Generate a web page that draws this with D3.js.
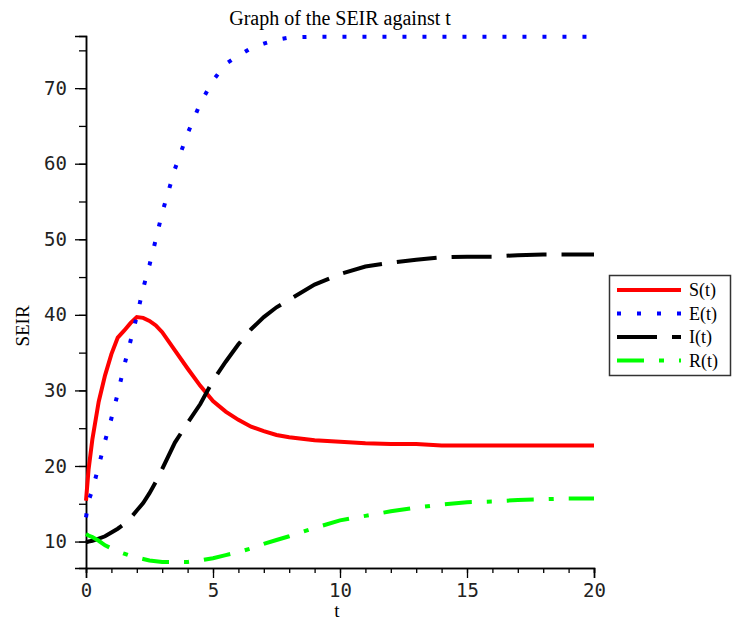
<!DOCTYPE html>
<html lang="en">
	<head>
		<meta charset="utf-8">
		<title>Graph of the SEIR against t</title>
		<script type="text/javascript" src="https://d3js.org/d3.v7.min.js"></script>
		<style type="text/css">
			body { margin: 0; background: #fff; }
			text { font-family: "Liberation Serif", "Times New Roman", serif; fill: #000; }
			.tick text { font-family: "DejaVu Sans Mono", monospace; fill: #222; }
		</style>
	</head>
	<body>
		<script type="text/javascript">

			//Width and height
			var w = 732;
			var h = 626;

			// data
			var tValues = [0, 0.1, 0.25, 0.5, 0.75, 1, 1.25, 1.5, 1.75, 2, 2.25, 2.5, 2.75, 3, 3.5, 4, 4.5, 5, 5.5, 6, 6.5, 7, 7.5, 8, 9, 10, 11, 12, 13, 14, 15, 16, 17, 18, 19, 20];
			var sValues = [15.4, 19.5, 23.5, 28.5, 32.0, 34.8, 37.0, 37.9, 38.9, 39.7, 39.6, 39.2, 38.6, 37.7, 35.3, 32.9, 30.6, 28.6, 27.2, 26.1, 25.2, 24.6, 24.1, 23.8, 23.4, 23.2, 23.0, 22.9, 22.9, 22.7, 22.7, 22.7, 22.7, 22.7, 22.7, 22.7];
			var eValues = [13.2, 15.4, 16.8, 20.0, 23.3, 26.3, 29.6, 33.2, 36.5, 39.8, 43.5, 46.6, 50.0, 53.5, 59.3, 64.0, 68.0, 71.0, 73.2, 74.3, 75.3, 75.9, 76.4, 76.7, 76.8, 76.8, 76.8, 76.8, 76.8, 76.8, 76.8, 76.8, 76.8, 76.8, 76.8, 76.8];
			var iValues = [9.9, 10.0, 10.1, 10.4, 10.7, 11.2, 11.7, 12.3, 13.1, 14.1, 15.1, 16.4, 17.9, 19.6, 23.1, 25.7, 28.2, 31.3, 33.8, 36.1, 38.1, 39.7, 41.0, 42.0, 44.0, 45.4, 46.4, 46.9, 47.3, 47.6, 47.7, 47.7, 47.9, 48.0, 48.0, 48.0];
			var rValues = [11.0, 10.8, 10.6, 10.1, 9.5, 9.1, 8.7, 8.4, 8.1, 7.9, 7.7, 7.5, 7.4, 7.3, 7.3, 7.3, 7.5, 7.8, 8.2, 8.6, 9.1, 9.7, 10.2, 10.7, 11.8, 12.8, 13.4, 14.0, 14.5, 14.9, 15.2, 15.3, 15.5, 15.6, 15.7, 15.7];

			var seriesNames = ["S(t)", "E(t)", "I(t)", "R(t)"];
			var seriesColors = ["#ff0000", "#0000ff", "#000000", "#00ff00"];
			var seriesDashes = [null, "4,16", "40,15", "27,15,5,15"];

			var xTicks = [0, 5, 10, 15, 20];
			var yTicks = [10, 20, 30, 40, 50, 60, 70];

			var series = [sValues, eValues, iValues, rValues].map(function(vals, k) {
				return {
					name: seriesNames[k],
					color: seriesColors[k],
					dash: seriesDashes[k],
					points: tValues.map(function(t, i) { return [t, vals[i]]; })
				};
			});

			//Scales
			var x = d3.scaleLinear().domain([0, 20]).range([86, 594]);
			var y = d3.scaleLinear().domain([6.5, 76.9]).range([568, 36]);

			//Create SVG element
			var svg = d3.select("body")
						.append("svg")
						.attr("width", w)
						.attr("height", h);

			// title
			svg.append("text")
				.attr("x", 340)
				.attr("y", 25)
				.attr("text-anchor", "middle")
				.style("font-size", "20px")
				.text("Graph of the SEIR against t");

			// x axis (minor ticks every 1, major every 5)
			var xAxis = svg.append("g").attr("transform", "translate(0,568)");
			xAxis.call(d3.axisBottom(x).tickValues(d3.range(0, 21, 1)).tickSize(5).tickFormat(""));
			xAxis.append("g").call(d3.axisBottom(x).tickValues(xTicks).tickSize(10).tickPadding(6).tickFormat(d3.format("d")));

			// y axis (minor ticks every 5, major every 10)
			var yAxis = svg.append("g").attr("transform", "translate(86,0)");
			yAxis.call(d3.axisLeft(y).tickValues(d3.range(10, 80, 5)).tickSize(7).tickFormat(""));
			yAxis.append("g").call(d3.axisLeft(y).tickValues(yTicks).tickSize(11).tickPadding(8).tickFormat(d3.format("d")));

			[xAxis, yAxis].forEach(function(ax) {
				ax.selectAll("g").attr("font-family", null).attr("font-size", null);
				ax.attr("font-family", null).attr("font-size", null);
				ax.selectAll(".domain").attr("stroke", "#000").attr("stroke-width", 1.5);
				ax.selectAll(".tick line").attr("stroke", "#000").attr("stroke-width", 1.3);
				ax.selectAll(".tick text").attr("fill", "#222").style("font-size", "19px");
			});

			// axis labels
			svg.append("text")
				.attr("x", 337)
				.attr("y", 617)
				.attr("text-anchor", "middle")
				.style("font-size", "19px")
				.text("t");

			svg.append("text")
				.attr("transform", "translate(29,326) rotate(-90)")
				.attr("text-anchor", "middle")
				.style("font-size", "19px")
				.text("SEIR");

			// curves
			var line = d3.line()
				.x(function(d) { return x(d[0]); })
				.y(function(d) { return y(d[1]); });

			svg.selectAll("path.curve")
				.data(series)
				.enter()
				.append("path")
				.attr("class", "curve")
				.attr("d", function(d) { return line(d.points); })
				.attr("fill", "none")
				.attr("stroke", function(d) { return d.color; })
				.attr("stroke-width", 4)
				.attr("stroke-dasharray", function(d) { return d.dash; });

			// legend
			var legend = svg.append("g");
			legend.append("rect")
				.attr("x", 609.5)
				.attr("y", 275.5)
				.attr("width", 121)
				.attr("height", 100)
				.attr("fill", "#fff")
				.attr("stroke", "#333")
				.attr("stroke-width", 1.5);

			var rows = legend.selectAll("g.row")
				.data(series)
				.enter()
				.append("g")
				.attr("class", "row")
				.attr("transform", function(d, i) { return "translate(0," + (290 + i * 23.5) + ")"; });

			rows.append("line")
				.attr("x1", 617)
				.attr("x2", 681)
				.attr("stroke", function(d) { return d.color; })
				.attr("stroke-width", 4)
				.attr("stroke-dasharray", function(d) { return d.dash; });

			rows.append("text")
				.attr("x", 689)
				.attr("y", 6)
				.style("font-size", "18px")
				.text(function(d) { return d.name; });

		</script>
	</body>
</html>
